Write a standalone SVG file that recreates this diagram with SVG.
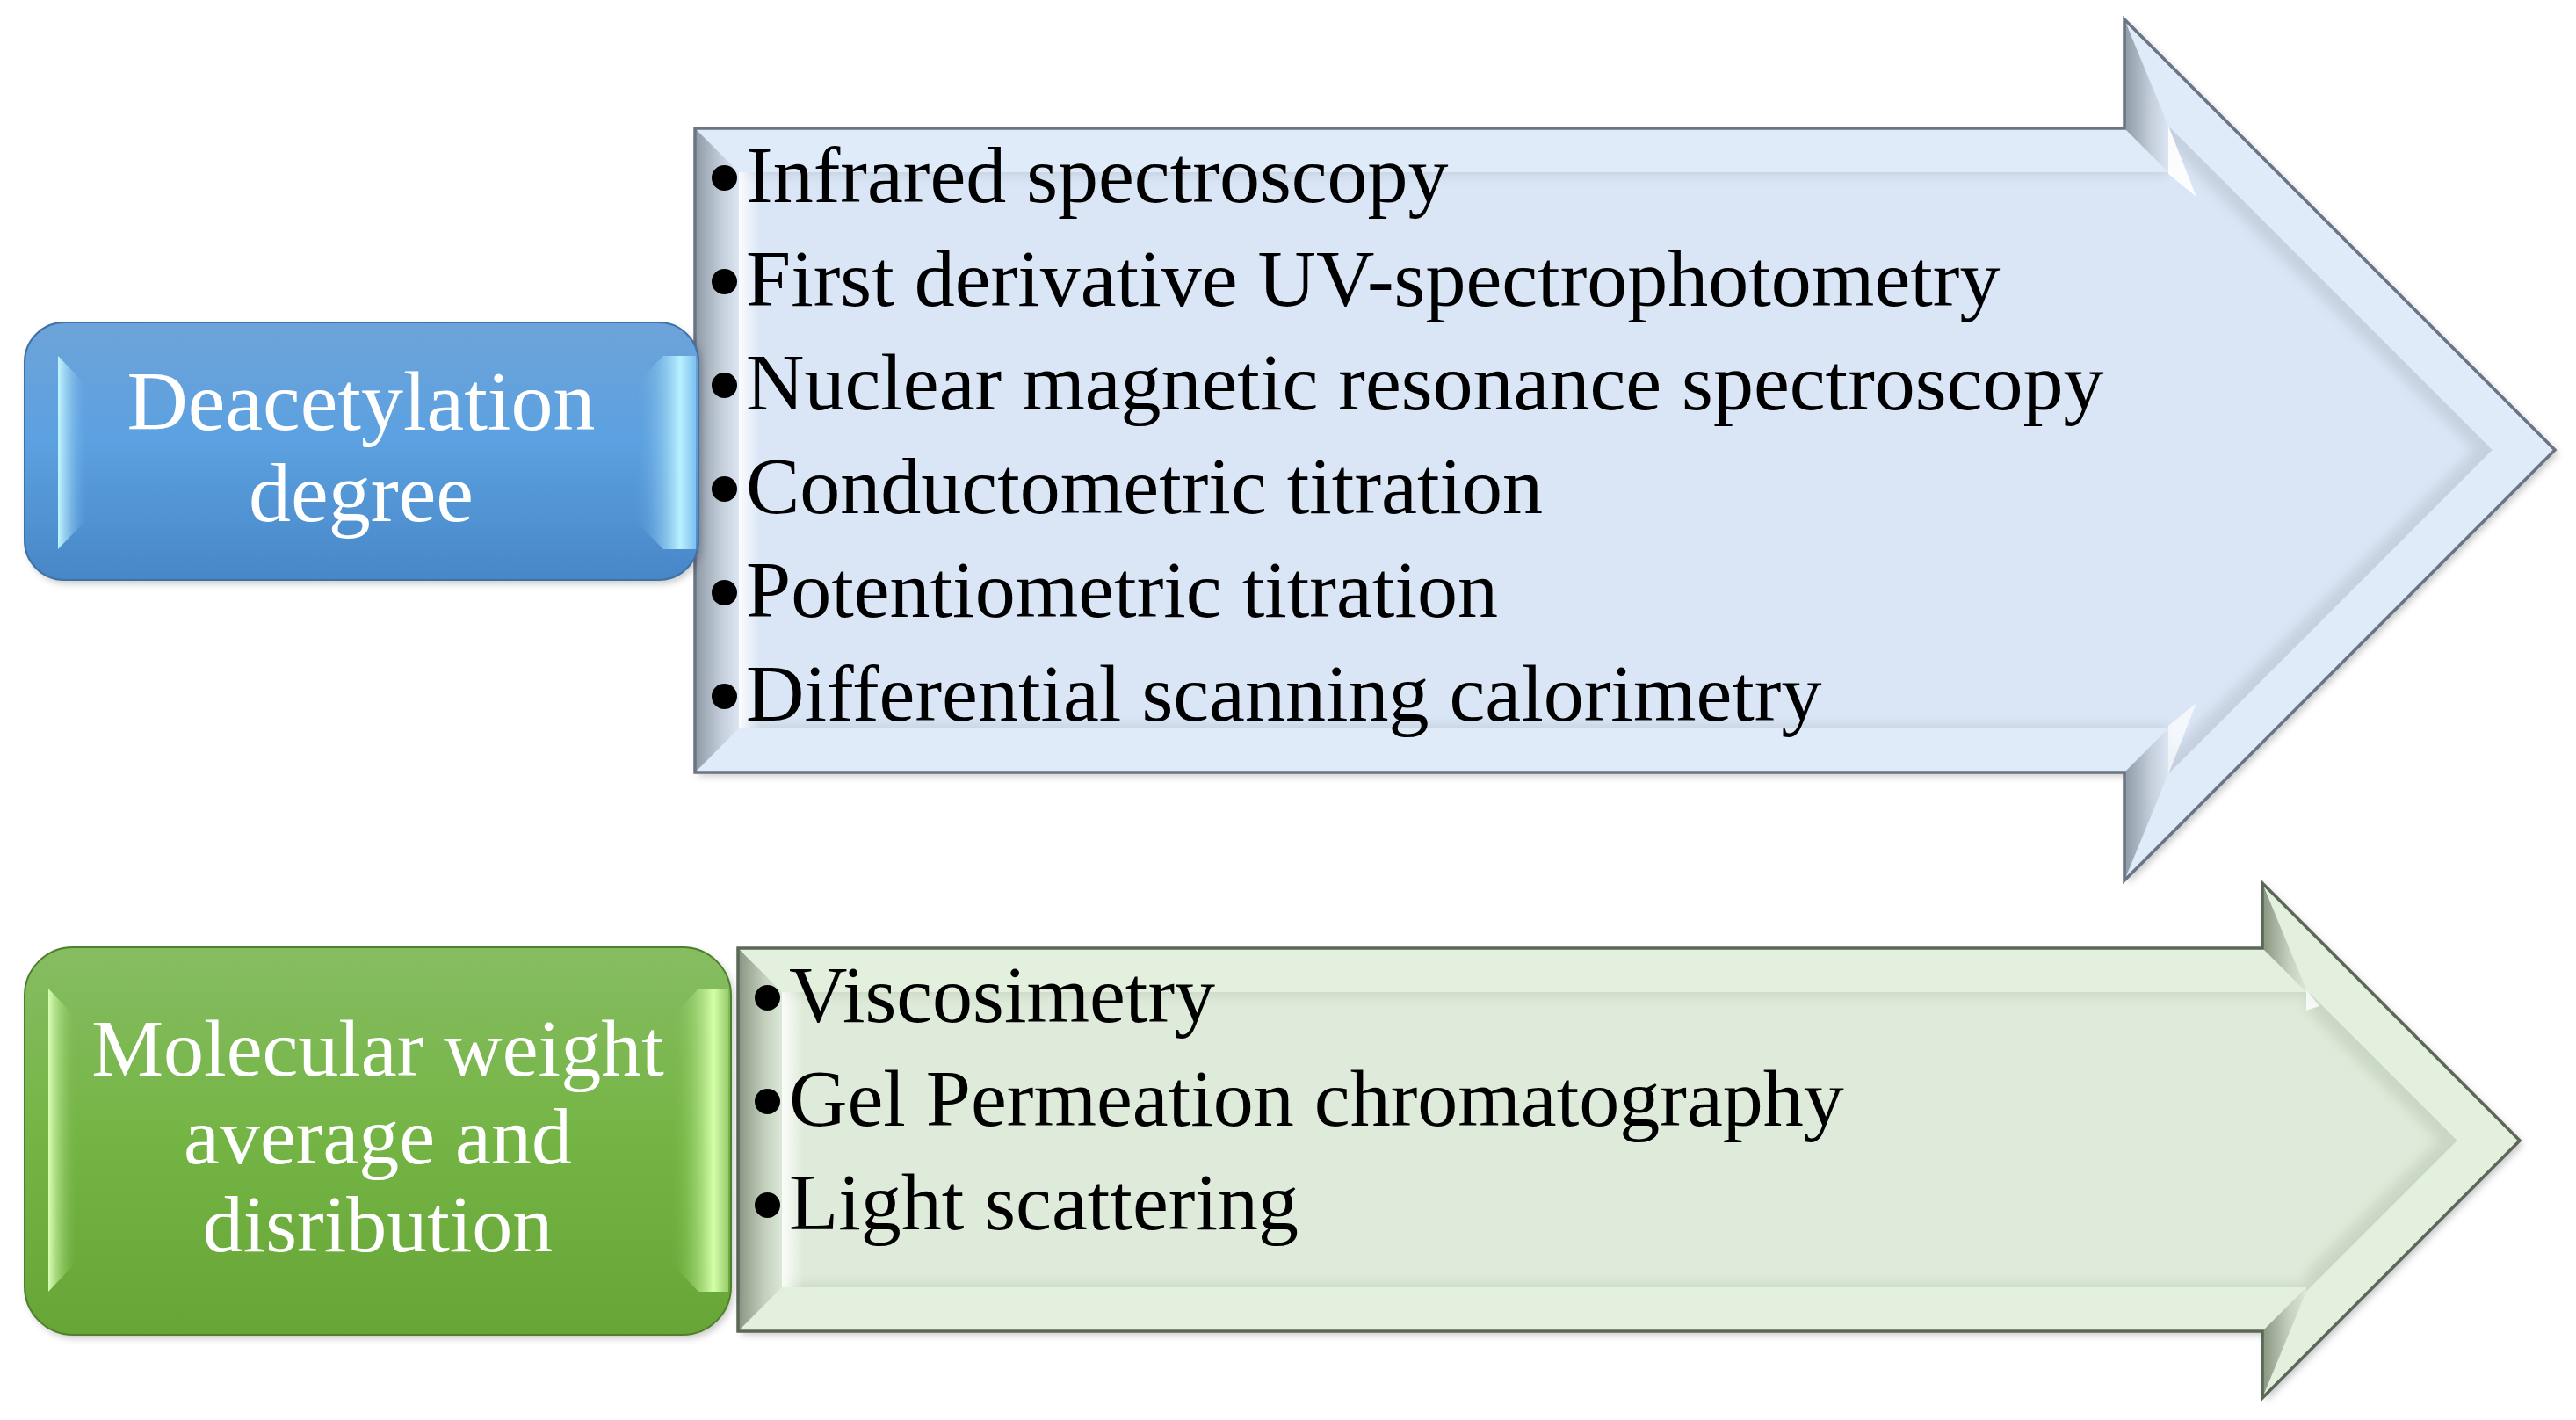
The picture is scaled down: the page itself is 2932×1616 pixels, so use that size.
<svg xmlns="http://www.w3.org/2000/svg" width="2932" height="1616" viewBox="0 0 2932 1616">
<style>
.lbl{font-family:"Liberation Serif","Times New Roman",serif;font-size:92px;fill:#ffffff;text-anchor:middle}
.lblB{font-size:96px}
.itm{font-family:"Liberation Serif","Times New Roman",serif;font-size:92px;fill:#000000}
.bul{font-family:"DejaVu Sans",sans-serif;font-size:100px}
.edgeB{fill:none;stroke:#6A7482;stroke-width:3.5;stroke-linejoin:miter}
.edgeG{fill:none;stroke:#5B6757;stroke-width:3.5;stroke-linejoin:miter}
</style>
<defs>
<filter id="soft" x="-5%" y="-10%" width="110%" height="120%"><feGaussianBlur stdDeviation="7"/></filter>
<filter id="shadow" x="-5%" y="-5%" width="110%" height="110%"><feGaussianBlur stdDeviation="4"/></filter>
<linearGradient id="sideB" x1="0" y1="0" x2="1" y2="0"><stop offset="0" stop-color="#8E99A6"/><stop offset="0.6" stop-color="#C4CEDB"/><stop offset="1" stop-color="#DCE6F3"/></linearGradient>
<linearGradient id="sideG" x1="0" y1="0" x2="1" y2="0"><stop offset="0" stop-color="#87947F"/><stop offset="0.6" stop-color="#C3D0BE"/><stop offset="1" stop-color="#DCE8D7"/></linearGradient>
<linearGradient id="glint" x1="0" y1="0" x2="1" y2="0"><stop offset="0" stop-color="#FFFFFF" stop-opacity="0.9"/><stop offset="1" stop-color="#FFFFFF" stop-opacity="0"/></linearGradient>
<linearGradient id="blueFill" x1="0" y1="0" x2="0" y2="1"><stop offset="0" stop-color="#6DA3D8"/><stop offset="0.45" stop-color="#5CA1E1"/><stop offset="1" stop-color="#4887C7"/></linearGradient>
<linearGradient id="greenFill" x1="0" y1="0" x2="0" y2="1"><stop offset="0" stop-color="#86BD62"/><stop offset="0.5" stop-color="#74B444"/><stop offset="1" stop-color="#66A536"/></linearGradient>
<linearGradient id="hlL_B" x1="0" y1="0" x2="1" y2="0"><stop offset="0" stop-color="#C2F6FF"/><stop offset="1" stop-color="#62A2DE" stop-opacity="0"/></linearGradient>
<linearGradient id="hlR_B" x1="0" y1="0" x2="1" y2="0"><stop offset="0" stop-color="#5596D6" stop-opacity="0"/><stop offset="0.75" stop-color="#B8F1FF"/><stop offset="1" stop-color="#7FC0EE"/></linearGradient>
<linearGradient id="hlL_G" x1="0" y1="0" x2="1" y2="0"><stop offset="0" stop-color="#D9FFB5"/><stop offset="1" stop-color="#76B548" stop-opacity="0"/></linearGradient>
<linearGradient id="hlR_G" x1="0" y1="0" x2="1" y2="0"><stop offset="0" stop-color="#70B040" stop-opacity="0"/><stop offset="0.75" stop-color="#D4FFAA"/><stop offset="1" stop-color="#98CC6C"/></linearGradient>
<clipPath id="clipInB"><polygon points="841,196 2468,196 2468,143 2837,512 2468,881 2468,829 841,829"/></clipPath>
<clipPath id="clipInG"><polygon points="890,1129 2625,1129 2625,1126 2797,1298 2625,1470 2625,1465 890,1465"/></clipPath>
</defs>
<rect width="2932" height="1616" fill="#ffffff"/>

<g id="node-deacetylation-methods">
<polygon points="795,150 2422,150 2422,26 2912,516 2422,1006 2422,883 795,883" fill="#000" opacity="0.22" filter="url(#shadow)"/>
<polygon points="791,146 2418,146 2418,22 2908,512 2418,1002 2418,879 791,879" fill="#E0EBFA"/>
<polygon points="791,146 841,196 841,829 791,879" fill="url(#sideB)"/>
<polygon points="2418,22 2468,143 2468,196 2418,146" fill="url(#sideB)"/>
<polygon points="2418,1002 2468,881 2468,829 2418,879" fill="url(#sideB)"/>
<g clip-path="url(#clipInB)">
<polygon points="841,196 2468,196 2468,143 2837,512 2468,881 2468,829 841,829" fill="#C6D1DF"/>
<polygon points="830,200 2468,200 2468,165 2816,512 2468,859 2468,825 830,825" fill="#DAE6F6" filter="url(#soft)"/>
<rect x="841" y="196" width="24" height="633" fill="url(#glint)"/>
</g>
<polygon points="2468,143 2500,224 2468,198" fill="#FFFFFF" opacity="0.9"/>
<polygon points="2468,881 2500,800 2468,826" fill="#FFFFFF" opacity="0.7"/>
<polygon class="edgeB" points="791,146 2418,146 2418,22 2908,512 2418,1002 2418,879 791,879"/>
<text class="itm"><tspan class="bul" x="795" y="240">•</tspan><tspan x="849" y="230">Infrared spectroscopy</tspan></text>
<text class="itm"><tspan class="bul" x="795" y="358">•</tspan><tspan x="849" y="348">First derivative UV-spectrophotometry</tspan></text>
<text class="itm"><tspan class="bul" x="795" y="476">•</tspan><tspan x="849" y="466">Nuclear magnetic resonance spectroscopy</tspan></text>
<text class="itm"><tspan class="bul" x="795" y="594">•</tspan><tspan x="849" y="584">Conductometric titration</tspan></text>
<text class="itm"><tspan class="bul" x="795" y="712">•</tspan><tspan x="849" y="702">Potentiometric titration</tspan></text>
<text class="itm"><tspan class="bul" x="795" y="830">•</tspan><tspan x="849" y="820">Differential scanning calorimetry</tspan></text>
</g>

<g id="node-deacetylation">
<rect x="31" y="371" width="767" height="293" rx="45" fill="#000" opacity="0.22" filter="url(#shadow)"/>
<rect x="28" y="367" width="767" height="293" rx="45" fill="url(#blueFill)" stroke="#3F72A6" stroke-width="2"/>
<polygon points="66,405 100,440 100,590 66,625" fill="url(#hlL_B)"/>
<polygon points="720,440 755,405 792,405 792,625 755,625 720,590" fill="url(#hlR_B)"/>
<text class="lbl lblB" x="411" y="489">Deacetylation</text>
<text class="lbl lblB" x="411" y="593">degree</text>
</g>

<g id="node-mw-methods">
<polygon points="844,1083 2579,1083 2579,1009 2872,1302 2579,1595 2579,1519 844,1519" fill="#000" opacity="0.22" filter="url(#shadow)"/>
<polygon points="840,1079 2575,1079 2575,1005 2868,1298 2575,1591 2575,1515 840,1515" fill="#E3F0DE"/>
<polygon points="840,1079 890,1129 890,1465 840,1515" fill="url(#sideG)"/>
<polygon points="2575,1005 2625,1126 2625,1129 2575,1079" fill="url(#sideG)"/>
<polygon points="2575,1591 2625,1470 2625,1465 2575,1515" fill="url(#sideG)"/>
<g clip-path="url(#clipInG)">
<polygon points="890,1129 2625,1129 2625,1126 2797,1298 2625,1470 2625,1465 890,1465" fill="#C9D7C4"/>
<polygon points="880,1133 2625,1133 2625,1148 2776,1298 2625,1448 2625,1461 880,1461" fill="#DFEBDA" filter="url(#soft)"/>
<rect x="890" y="1129" width="24" height="336" fill="url(#glint)"/>
</g>
<polygon points="2625,1126 2640,1145 2625,1150" fill="#FFFFFF" opacity="0.8"/>
<polygon class="edgeG" points="840,1079 2575,1079 2575,1005 2868,1298 2575,1591 2575,1515 840,1515"/>
<text class="itm"><tspan class="bul" x="844" y="1173">•</tspan><tspan x="898" y="1163">Viscosimetry</tspan></text>
<text class="itm"><tspan class="bul" x="844" y="1291">•</tspan><tspan x="898" y="1281">Gel Permeation chromatography</tspan></text>
<text class="itm"><tspan class="bul" x="844" y="1409">•</tspan><tspan x="898" y="1399">Light scattering</tspan></text>
</g>

<g id="node-molecular-weight">
<rect x="31" y="1082" width="804" height="441" rx="55" fill="#000" opacity="0.22" filter="url(#shadow)"/>
<rect x="28" y="1078" width="804" height="441" rx="55" fill="url(#greenFill)" stroke="#4F7F2E" stroke-width="2"/>
<polygon points="55,1125 88,1160 88,1435 55,1470" fill="url(#hlL_G)"/>
<polygon points="762,1160 795,1125 829,1125 829,1470 795,1470 762,1435" fill="url(#hlR_G)"/>
<text class="lbl" x="430" y="1224">Molecular weight</text>
<text class="lbl" x="430" y="1324">average and</text>
<text class="lbl" x="430" y="1424">disribution</text>
</g>

<g id="connectors"/>
</svg>
